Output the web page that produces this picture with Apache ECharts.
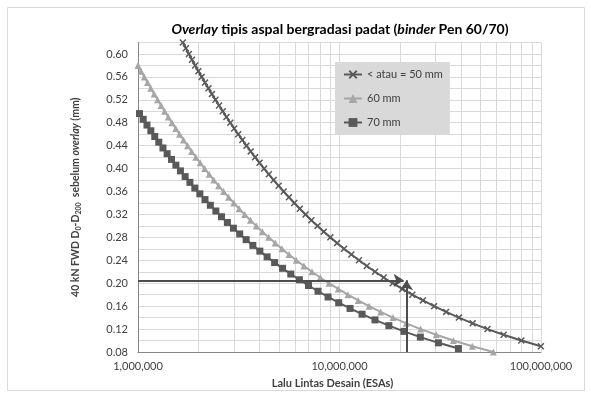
<!DOCTYPE html>
<html>
<head>
<meta charset="utf-8">
<script src="https://cdn.jsdelivr.net/npm/echarts@6/dist/echarts.min.js"></script>
<style>
  html, body { margin: 0; padding: 0; background: #fff; }
  #chart { width: 591px; height: 394px; }
</style>
</head>
<body>
<div id="chart"></div>
<script>
// lendutan D0-D200 (mm) dan lalu lintas (juta ESA)
const d50 = [0.62, 0.61, 0.60, 0.59, 0.58, 0.57, 0.56, 0.55, 0.54, 0.53, 0.52, 0.51, 0.50, 0.49, 0.48, 0.47, 0.46, 0.45,
  0.44, 0.43, 0.42, 0.41, 0.40, 0.39, 0.38, 0.37, 0.36, 0.35, 0.34, 0.33, 0.32, 0.31, 0.30, 0.29, 0.28, 0.27,
  0.26, 0.25, 0.24, 0.23, 0.22, 0.21, 0.20, 0.19, 0.18, 0.17, 0.16, 0.15, 0.14, 0.13, 0.12, 0.11, 0.10, 0.09];
const esa50 = [1.669, 1.728, 1.789, 1.854, 1.922, 1.994, 2.071, 2.151, 2.237, 2.327, 2.423, 2.525, 2.634, 2.748, 2.871, 3.002, 3.143, 3.293,
  3.454, 3.626, 3.811, 4.011, 4.226, 4.459, 4.711, 4.985, 5.284, 5.609, 5.965, 6.355, 6.783, 7.254, 7.780, 8.357, 9.001, 9.724,
  10.53, 11.45, 12.49, 13.66, 15.01, 16.57, 18.37, 20.48, 22.97, 25.93, 29.49, 33.81, 39.13, 45.80, 54.26, 65.25, 79.85, 99.85];

const d60 = [0.58, 0.57, 0.56, 0.55, 0.54, 0.53, 0.52, 0.51, 0.50, 0.49, 0.48, 0.47, 0.46, 0.45, 0.44, 0.43, 0.42,
  0.41, 0.40, 0.39, 0.38, 0.37, 0.36, 0.35, 0.34, 0.33, 0.32, 0.31, 0.30, 0.29, 0.28, 0.27, 0.26, 0.25,
  0.24, 0.23, 0.22, 0.21, 0.20, 0.19, 0.18, 0.17, 0.16, 0.15, 0.14, 0.13, 0.12, 0.11, 0.10, 0.09, 0.08];
const esa60 = [1.000, 1.036, 1.075, 1.115, 1.158, 1.203, 1.251, 1.302, 1.356, 1.413, 1.474, 1.539, 1.608, 1.682, 1.762, 1.846, 1.938,
  2.036, 2.142, 2.256, 2.379, 2.513, 2.658, 2.817, 2.989, 3.178, 3.384, 3.613, 3.864, 4.142, 4.450, 4.795, 5.180, 5.615,
  6.103, 6.659, 7.297, 8.025, 8.871, 9.853, 11.01, 12.38, 14.02, 16.00, 18.43, 21.45, 25.27, 30.21, 36.73, 45.60, 58.03];

const d70 = [0.496, 0.486, 0.476, 0.466, 0.456, 0.446, 0.436, 0.426, 0.416, 0.406, 0.396, 0.386, 0.376, 0.366,
  0.356, 0.346, 0.336, 0.326, 0.316, 0.306, 0.296, 0.286, 0.276, 0.266, 0.256, 0.246, 0.236, 0.226,
  0.216, 0.206, 0.196, 0.186, 0.176, 0.166, 0.156, 0.146, 0.136, 0.126, 0.116, 0.106, 0.096, 0.086];
const esa70 = [1.017, 1.061, 1.108, 1.158, 1.211, 1.268, 1.330, 1.395, 1.466, 1.542, 1.624, 1.714, 1.810, 1.914,
  2.027, 2.150, 2.286, 2.434, 2.597, 2.777, 2.976, 3.197, 3.441, 3.716, 4.025, 4.373, 4.766, 5.216,
  5.731, 6.324, 7.016, 7.824, 8.775, 9.909, 11.28, 12.94, 15.00, 17.58, 20.88, 25.19, 30.96, 38.92];

const seriesNames = ['< atau = 50 mm', '60 mm', '70 mm'];

// contoh pembacaan (panah)
const arrowD = 0.205;
const arrowEsaH = 20.8e6;
const arrowEsaV = 21.5e6;

const font = 'Lato';
const crossPath = 'path://M0,1.5L1.5,0L5,3.5L8.5,0L10,1.5L6.5,5L10,8.5L8.5,10L5,6.5L1.5,10L0,8.5L3.5,5Z';

function pairs(esa, d) {
  return esa.map((v, i) => [v * 1e6, d[i]]);
}

const chart = echarts.init(document.getElementById('chart'));

chart.setOption({
  animation: false,
  backgroundColor: '#fff',
  textStyle: { fontFamily: font },
  graphic: [{
    type: 'rect',
    shape: { x: 7.5, y: 7.5, width: 577, height: 383 },
    style: { fill: 'none', stroke: '#d9d9d9', lineWidth: 1 }
  }],
  title: {
    text: '{i|Overlay} tipis aspal bergradasi padat ({i|binder} Pen 60/70)',
    left: 335,
    textAlign: 'center',
    top: 17,
    textStyle: {
      fontFamily: font, fontSize: 14, fontWeight: 'bold', color: '#000',
      rich: { i: { fontFamily: font, fontSize: 14, fontWeight: 'bold', fontStyle: 'italic', color: '#000' } }
    }
  },
  legend: {
    data: seriesNames,
    orient: 'vertical',
    left: 335,
    top: 62,
    backgroundColor: '#d9d9d9',
    padding: [7, 7, 6, 8],
    itemWidth: 18,
    itemHeight: 11,
    itemGap: 13,
    textStyle: { fontFamily: font, fontSize: 11, color: '#404040' }
  },
  grid: { left: 138, right: 50, top: 42.5, bottom: 41.3 },
  xAxis: {
    type: 'log',
    logBase: 10,
    min: 1e6,
    max: 1e8,
    name: 'Lalu Lintas Desain (ESAs)',
    nameLocation: 'middle',
    nameGap: 26,
    nameTextStyle: { fontFamily: font, fontSize: 11, fontWeight: 'bold', color: '#404040', padding: [0, 14, 0, 0] },
    axisLine: { lineStyle: { color: '#868686' } },
    axisTick: { show: false },
    axisLabel: {
      fontSize: 11, color: '#404040', margin: 9,
      formatter: v => Math.round(v).toLocaleString('en-US')
    },
    splitLine: { show: true, lineStyle: { color: ['#d9d9d9', '#8c8c8c', '#d9d9d9'], width: 1 } },
    minorTick: { show: false, splitNumber: 9 },
    minorSplitLine: { show: true, lineStyle: { color: '#d9d9d9', width: 1 } }
  },
  yAxis: {
    type: 'value',
    min: 0.08,
    max: 0.62,
    interval: 0.02,
    name: '40 kN FWD D{s|0}-D{s|200}  sebelum {i|overlay} (mm)',
    nameLocation: 'middle',
    nameRotate: 90,
    nameGap: 56,
    nameTextStyle: {
      fontFamily: font, fontSize: 10.5, fontWeight: 'bold', color: '#404040',
      rich: {
        s: { fontFamily: font, fontSize: 7, fontWeight: 'bold', color: '#404040', verticalAlign: 'bottom', padding: [5, 0, 0, 0] },
        i: { fontFamily: font, fontSize: 10.5, fontWeight: 'bold', fontStyle: 'italic', color: '#404040' }
      }
    },
    axisLine: { show: true, lineStyle: { color: '#868686' } },
    axisTick: { show: false },
    axisLabel: {
      fontSize: 11, color: '#404040', margin: 10,
      formatter: v => (Math.round((v - 0.08) / 0.02) % 2 ? '' : v.toFixed(2))
    },
    splitLine: { show: true, lineStyle: { color: '#d9d9d9', width: 1 } }
  },
  series: [
    {
      name: seriesNames[0],
      type: 'line',
      data: pairs(esa50, d50),
      clip: true,
      symbol: crossPath,
      symbolSize: 7,
      lineStyle: { color: '#595959', width: 2 },
      itemStyle: { color: '#595959' },
      z: 4
    },
    {
      name: seriesNames[1],
      type: 'line',
      data: pairs(esa60, d60),
      clip: true,
      symbol: 'triangle',
      symbolSize: 7,
      lineStyle: { color: '#a6a6a6', width: 2 },
      itemStyle: { color: '#a6a6a6' },
      z: 3
    },
    {
      name: seriesNames[2],
      type: 'line',
      data: pairs(esa70, d70),
      clip: true,
      symbol: 'rect',
      symbolSize: 7,
      lineStyle: { color: '#595959', width: 2 },
      itemStyle: { color: '#595959' },
      z: 3
    },
    {
      name: 'panah',
      type: 'line',
      data: [],
      markLine: {
        silent: true,
        symbol: ['none', 'arrow'],
        symbolSize: 10,
        label: { show: false },
        lineStyle: { color: '#4d4d4d', width: 2, type: 'solid' },
        data: [
          [{ coord: [1e6, arrowD] }, { coord: [arrowEsaH, arrowD] }],
          [{ coord: [arrowEsaV, 0.08] }, { coord: [arrowEsaV, arrowD] }]
        ]
      },
      z: 5
    }
  ]
});
</script>
</body>
</html>
